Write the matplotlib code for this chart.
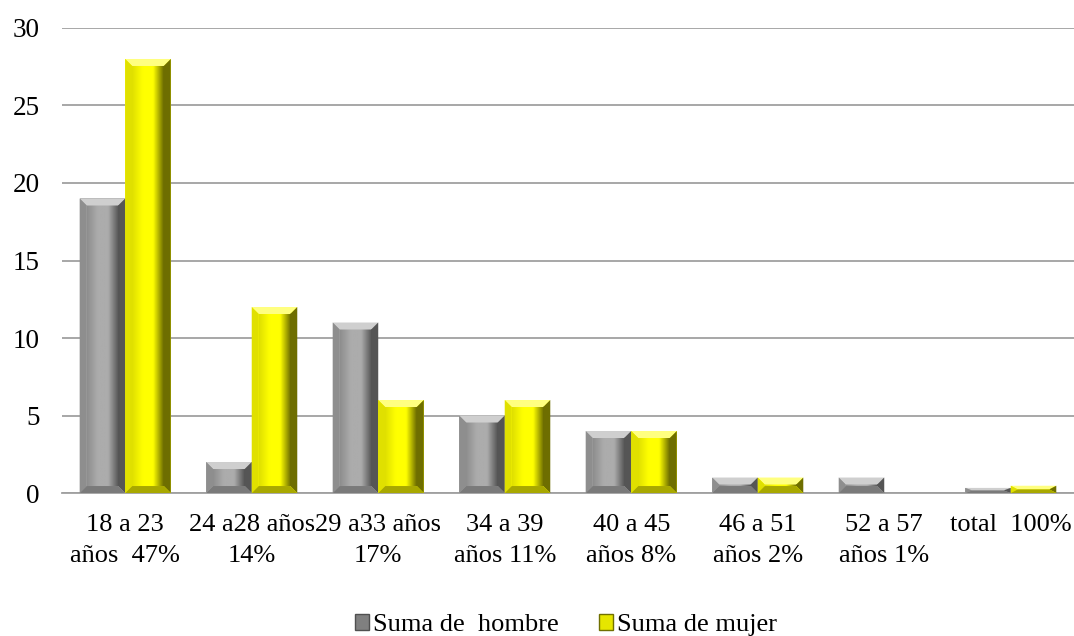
import matplotlib.pyplot as plt
from matplotlib.patches import Polygon, Patch
import numpy as np

plt.rcParams['font.family'] = ['Liberation Serif', 'DejaVu Serif']

# Data
categories = ['18 a 23\naños  47%', '24 a28 años\n14%', '29 a33 años\n17%', '34 a 39\naños 11%',
              '40 a 45\naños 8%', '46 a 51\naños 2%', '52 a 57\naños 1%', 'total  100%']
hombre = [19, 2, 11, 5, 4, 1, 1, 0.33]
mujer = [28, 12, 6, 6, 4, 1, 0, 0.47]

# face colours: (top, left, centre, right, bottom)
gray_faces = ('#cfcfcf', '#8e8e8e', '#acacac', '#555555', '#7a7a7a')
yellow_faces = ('#ffff80', '#e0e000', '#ffff00', '#6e6e00', '#a8a800')

fig = plt.figure(figsize=(10.74, 6.36), dpi=100)
ax = fig.add_axes([0.0577, 0.2248, 0.9423, 0.7312])

ymax = 30
ax.set_ylim(0, ymax)
ax.set_xlim(-0.5, len(categories) - 0.5)

# pixels per data unit, to keep the bevel size even in both directions
px_x = fig.get_figwidth() * fig.dpi * 0.9423 / len(categories)
px_y = fig.get_figheight() * fig.dpi * 0.7312 / ymax


def bevel_bar(x0, w, h, faces):
    if h <= 0:
        return
    bx = 7 / px_x
    by = min(7 / px_y, h / 2)
    x1 = x0 + w
    top, left, centre, right, bottom = faces
    ax.add_patch(Polygon([(x0, 0), (x1, 0), (x1, h), (x0, h)], closed=True,
                         facecolor=centre, edgecolor='none', zorder=3))
    # horizontal shading on the centre face
    grad = np.linspace(0, 1, 50)[None, :]
    ax.imshow(grad, extent=(x0 + bx, x1 - bx, by, h - by), aspect='auto',
              cmap=plt.matplotlib.colors.LinearSegmentedColormap.from_list(
                  'g', [left, centre, centre, right]), zorder=3.5)
    ax.add_patch(Polygon([(x0, h), (x1, h), (x1 - bx, h - by), (x0 + bx, h - by)],
                         facecolor=top, edgecolor='none', zorder=4))
    ax.add_patch(Polygon([(x0, 0), (x0 + bx, by), (x0 + bx, h - by), (x0, h)],
                         facecolor=left, edgecolor='none', zorder=4))
    ax.add_patch(Polygon([(x1, 0), (x1 - bx, by), (x1 - bx, h - by), (x1, h)],
                         facecolor=right, edgecolor='none', zorder=4))
    ax.add_patch(Polygon([(x0, 0), (x1, 0), (x1 - bx, by), (x0 + bx, by)],
                         facecolor=bottom, edgecolor='none', zorder=4))


w = 0.36
for i, (h, m) in enumerate(zip(hombre, mujer)):
    bevel_bar(i - w, w, h, gray_faces)
    bevel_bar(i, w, m, yellow_faces)

ax.set_xlim(-0.5, len(categories) - 0.5)
ax.set_ylim(0, ymax)
ax.set_yticks(range(0, 31, 5))
ax.set_xticks(range(len(categories)))
ax.set_xticklabels(categories, fontsize=19, linespacing=1.55)
ax.tick_params(axis='y', labelsize=19.5, length=0, pad=16)
ax.tick_params(axis='x', length=0, pad=15)
ax.grid(axis='y', color='#a0a0a0', linewidth=1.3, zorder=0)
ax.set_axisbelow(True)
for s in ['top', 'right', 'left']:
    ax.spines[s].set_visible(False)
ax.spines['bottom'].set_color('#a0a0a0')
ax.spines['bottom'].set_linewidth(1.3)

handles = [Patch(facecolor='#808080', edgecolor='#505050', label='Suma de  hombre'),
           Patch(facecolor='#e6e600', edgecolor='#707000', label='Suma de mujer')]
fig.legend(handles=handles, loc='center', bbox_to_anchor=(0.527, 0.017), ncol=2,
           frameon=False, fontsize=19, handlelength=0.55, handleheight=0.55,
           handletextpad=0.15, columnspacing=1.5)

fig.savefig('out.png', dpi=100)
